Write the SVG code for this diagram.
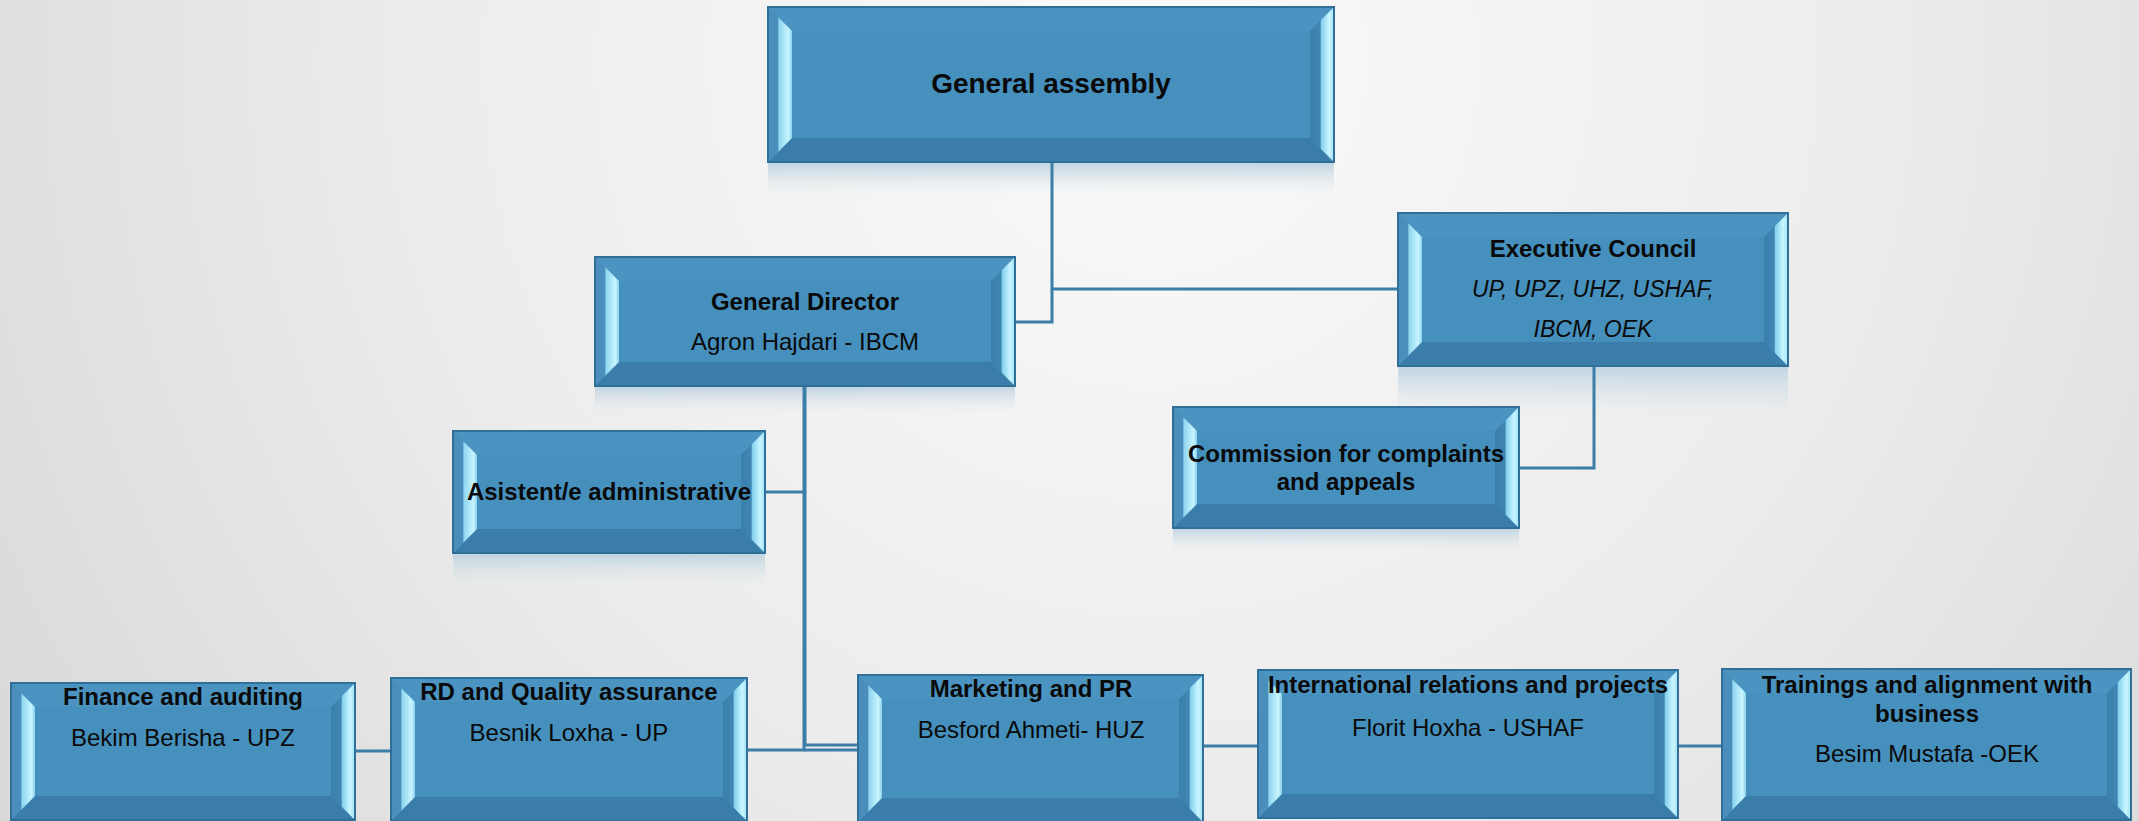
<svg xmlns="http://www.w3.org/2000/svg" width="2139" height="821" viewBox="0 0 2139 821">
<defs>
<radialGradient id="bg" cx="1150" cy="60" r="1350" gradientUnits="userSpaceOnUse">
<stop offset="0" stop-color="#fafafa"/>
<stop offset="0.55" stop-color="#ececec"/>
<stop offset="1" stop-color="#d9d9d9"/>
</radialGradient>
<linearGradient id="gl" x1="0" y1="0" x2="1" y2="0">
<stop offset="0" stop-color="#4a8fbb"/>
<stop offset="0.4" stop-color="#4a8fbb"/>
<stop offset="0.46" stop-color="#8fd6f0"/>
<stop offset="0.85" stop-color="#c8f5ff"/>
<stop offset="1" stop-color="#8ad2ee"/>
</linearGradient>
<linearGradient id="gr" x1="0" y1="0" x2="1" y2="0">
<stop offset="0" stop-color="#3b80ac"/>
<stop offset="0.42" stop-color="#3f86b3"/>
<stop offset="0.48" stop-color="#86d2ee"/>
<stop offset="0.8" stop-color="#c8f5ff"/>
<stop offset="1" stop-color="#9fe0f5"/>
</linearGradient>
<linearGradient id="refl" x1="0" y1="0" x2="0" y2="1">
<stop offset="0" stop-color="#bcd2e0" stop-opacity="0.9"/>
<stop offset="1" stop-color="#dfe6ea" stop-opacity="0"/>
</linearGradient>
<style>
.face{fill:#4690be}
.bt{fill:#4b94c1}
.bb{fill:#3a7daa}
.bl{fill:url(#gl)}
.br{fill:url(#gr)}
.edge{fill:none;stroke:#2f6f98;stroke-width:2}
.refl{fill:url(#refl)}
text{font-family:"Liberation Sans",Arial,sans-serif;font-size:24px;fill:#0a0a0a;text-anchor:middle}
.b{font-weight:bold}
.i{font-style:italic;font-size:23px}
.conn path{fill:none;stroke:#3b7ea8;stroke-width:3}
</style>
</defs>
<rect x="0" y="0" width="2139" height="821" fill="url(#bg)"/>

<g id="reflections">
<rect class="refl" x="768" y="163" width="566" height="32"/>
<rect class="refl" x="595" y="387" width="420" height="26"/>
<rect class="refl" x="1398" y="367" width="390" height="50"/>
<rect class="refl" x="1173" y="529" width="346" height="22"/>
<rect class="refl" x="453" y="554" width="312" height="32"/>
</g>

<g id="connectors" class="conn">
<path d="M1052,162 V322 H1015"/>
<path d="M1052,289 H1398"/>
<path d="M1594,366 V468 H1519"/>
<path d="M805,386 V492 H765"/>
<path d="M804,386 V750 H747"/>
<path d="M804,750 H858"/>
<path d="M805,492 V745 H858"/>
<path d="M355,751 H391"/>
<path d="M1203,746 H1258"/>
<path d="M1678,746 H1722"/>
</g>

<g id="n-general-assembly">
<rect class="face" x="768" y="7" width="566" height="155"/>
<polygon class="bt" points="768,7 1334,7 1310,31 792,31"/>
<polygon class="bb" points="768,162 1334,162 1310,138 792,138"/>
<polygon class="bl" points="768,7 792,31 792,138 768,162"/>
<polygon class="br" points="1334,7 1310,31 1310,138 1334,162"/>
<rect class="edge" x="768" y="7" width="566" height="155"/>
<text class="b" x="1051" y="93" style="font-size:28px">General assembly</text>
</g>

<g id="n-general-director">
<rect class="face" x="595" y="257" width="420" height="129"/>
<polygon class="bt" points="595,257 1015,257 991,281 619,281"/>
<polygon class="bb" points="595,386 1015,386 991,362 619,362"/>
<polygon class="bl" points="595,257 619,281 619,362 595,386"/>
<polygon class="br" points="1015,257 991,281 991,362 1015,386"/>
<rect class="edge" x="595" y="257" width="420" height="129"/>
<text class="b" x="805" y="310">General Director</text>
<text x="805" y="350">Agron Hajdari - IBCM</text>
</g>

<g id="n-executive-council">
<rect class="face" x="1398" y="213" width="390" height="153"/>
<polygon class="bt" points="1398,213 1788,213 1764,237 1422,237"/>
<polygon class="bb" points="1398,366 1788,366 1764,342 1422,342"/>
<polygon class="bl" points="1398,213 1422,237 1422,342 1398,366"/>
<polygon class="br" points="1788,213 1764,237 1764,342 1788,366"/>
<rect class="edge" x="1398" y="213" width="390" height="153"/>
<text class="b" x="1593" y="257">Executive Council</text>
<text class="i" x="1593" y="297">UP, UPZ, UHZ, USHAF,</text>
<text class="i" x="1593" y="337">IBCM, OEK</text>
</g>

<g id="n-commission">
<rect class="face" x="1173" y="407" width="346" height="121"/>
<polygon class="bt" points="1173,407 1519,407 1495,431 1197,431"/>
<polygon class="bb" points="1173,528 1519,528 1495,504 1197,504"/>
<polygon class="bl" points="1173,407 1197,431 1197,504 1173,528"/>
<polygon class="br" points="1519,407 1495,431 1495,504 1519,528"/>
<rect class="edge" x="1173" y="407" width="346" height="121"/>
<text class="b" x="1346" y="462">Commission for complaints</text>
<text class="b" x="1346" y="490">and appeals</text>
</g>

<g id="n-asistent">
<rect class="face" x="453" y="431" width="312" height="122"/>
<polygon class="bt" points="453,431 765,431 741,455 477,455"/>
<polygon class="bb" points="453,553 765,553 741,529 477,529"/>
<polygon class="bl" points="453,431 477,455 477,529 453,553"/>
<polygon class="br" points="765,431 741,455 741,529 765,553"/>
<rect class="edge" x="453" y="431" width="312" height="122"/>
<text class="b" x="609" y="500">Asistent/e administrative</text>
</g>

<g id="n-finance">
<rect class="face" x="11" y="683" width="344" height="137"/>
<polygon class="bt" points="11,683 355,683 331,707 35,707"/>
<polygon class="bb" points="11,820 355,820 331,796 35,796"/>
<polygon class="bl" points="11,683 35,707 35,796 11,820"/>
<polygon class="br" points="355,683 331,707 331,796 355,820"/>
<rect class="edge" x="11" y="683" width="344" height="137"/>
<text class="b" x="183" y="705">Finance and auditing</text>
<text x="183" y="746">Bekim Berisha - UPZ</text>
</g>

<g id="n-rd">
<rect class="face" x="391" y="678" width="356" height="143"/>
<polygon class="bt" points="391,678 747,678 723,702 415,702"/>
<polygon class="bb" points="391,821 747,821 723,797 415,797"/>
<polygon class="bl" points="391,678 415,702 415,797 391,821"/>
<polygon class="br" points="747,678 723,702 723,797 747,821"/>
<rect class="edge" x="391" y="678" width="356" height="143"/>
<text class="b" x="569" y="700">RD and Quality assurance</text>
<text x="569" y="741">Besnik Loxha - UP</text>
</g>

<g id="n-marketing">
<rect class="face" x="858" y="675" width="345" height="147"/>
<polygon class="bt" points="858,675 1203,675 1179,699 882,699"/>
<polygon class="bb" points="858,822 1203,822 1179,798 882,798"/>
<polygon class="bl" points="858,675 882,699 882,798 858,822"/>
<polygon class="br" points="1203,675 1179,699 1179,798 1203,822"/>
<rect class="edge" x="858" y="675" width="345" height="147"/>
<text class="b" x="1031" y="697">Marketing and PR</text>
<text x="1031" y="738">Besford Ahmeti- HUZ</text>
</g>

<g id="n-international">
<rect class="face" x="1258" y="670" width="420" height="148"/>
<polygon class="bt" points="1258,670 1678,670 1654,694 1282,694"/>
<polygon class="bb" points="1258,818 1678,818 1654,794 1282,794"/>
<polygon class="bl" points="1258,670 1282,694 1282,794 1258,818"/>
<polygon class="br" points="1678,670 1654,694 1654,794 1678,818"/>
<rect class="edge" x="1258" y="670" width="420" height="148"/>
<text class="b" x="1468" y="693">International relations and projects</text>
<text x="1468" y="736">Florit Hoxha - USHAF</text>
</g>

<g id="n-trainings">
<rect class="face" x="1722" y="669" width="409" height="151"/>
<polygon class="bt" points="1722,669 2131,669 2107,693 1746,693"/>
<polygon class="bb" points="1722,820 2131,820 2107,796 1746,796"/>
<polygon class="bl" points="1722,669 1746,693 1746,796 1722,820"/>
<polygon class="br" points="2131,669 2107,693 2107,796 2131,820"/>
<rect class="edge" x="1722" y="669" width="409" height="151"/>
<text class="b" x="1927" y="693">Trainings and alignment with</text>
<text class="b" x="1927" y="722">business</text>
<text x="1927" y="762">Besim Mustafa -OEK</text>
</g>
</svg>
